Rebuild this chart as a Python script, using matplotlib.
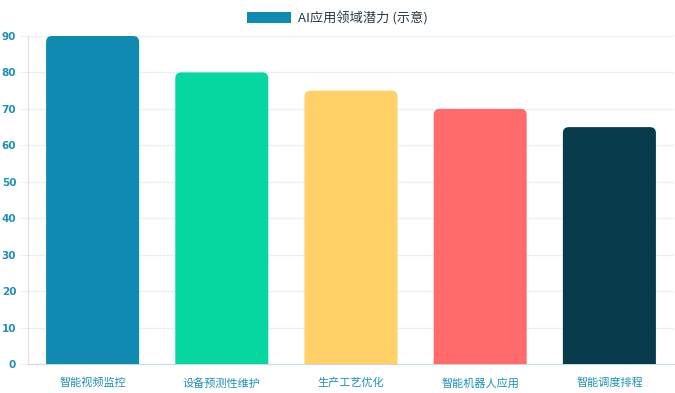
import matplotlib
matplotlib.use("Agg")
import matplotlib.pyplot as plt
from matplotlib.path import Path
from matplotlib.patches import PathPatch, Patch

plt.rcParams['font.family'] = ['Noto Sans CJK SC', 'DejaVu Sans']

categories = ["智能视频监控", "设备预测性维护", "生产工艺优化", "智能机器人应用", "智能调度排程"]
values = [90, 80, 75, 70, 65]
colors = ["#118AB2", "#06D6A0", "#FFD166", "#FF6B6B", "#073B4C"]
yticks = [0, 10, 20, 30, 40, 50, 60, 70, 80, 90]
legend_label = "AI应用领域潜力 (示意)"

W, H = 675, 393
fig = plt.figure(figsize=(W / 100, H / 100), dpi=100)
ax = fig.add_axes([28 / W, 1 - 364 / H, 646 / W, (364 - 36) / H])

n = len(categories)
ax.set_xlim(-0.5, n - 0.5)
ax.set_ylim(0, 90)

bw = 0.72
px_x = (n) / 646.0  # data units per pixel (x)
px_y = 90 / 328.0
r = 6
rx, ry = r * px_x, r * px_y
for i, (v, c) in enumerate(zip(values, colors)):
    x0, x1 = i - bw / 2, i + bw / 2
    verts = [(x0, 0), (x0, v - ry), (x0, v), (x0 + rx, v), (x1 - rx, v), (x1, v), (x1, v - ry), (x1, 0), (x0, 0)]
    codes = [Path.MOVETO, Path.LINETO, Path.CURVE3, Path.CURVE3, Path.LINETO, Path.CURVE3, Path.CURVE3, Path.LINETO, Path.CLOSEPOLY]
    ax.add_patch(PathPatch(Path(verts, codes), facecolor=c, edgecolor='none', zorder=3))

ax.set_xticks(range(n))
ax.set_xticklabels(categories, fontsize=8, color="#1f8fb8")
ax.tick_params(axis='x', length=0, pad=10)
ax.set_yticks(yticks)
ax.set_yticklabels([str(t) for t in yticks], fontsize=7.5, color="#1f8fb8", fontweight='bold', family=['DejaVu Sans'])
ax.tick_params(axis='y', length=5.5, color="#e6f1f5", pad=3)

ax.grid(axis='y', color="#e6f1f5", linewidth=1, zorder=0)
ax.set_axisbelow(True)
for s in ['top', 'right']:
    ax.spines[s].set_visible(False)
ax.spines['left'].set_color("#e0e0e0")
ax.spines['bottom'].set_color("#c8dbe3")

handle = Patch(facecolor=colors[0], edgecolor='none')
fig.legend([handle], [legend_label], loc='center', bbox_to_anchor=(0.5, 1 - 18 / H),
           frameon=False, fontsize=9.5, handlelength=3.3, handleheight=0.9,
           handletextpad=0.5, labelcolor="#2b3a45")

fig.savefig("out.png", dpi=100)
